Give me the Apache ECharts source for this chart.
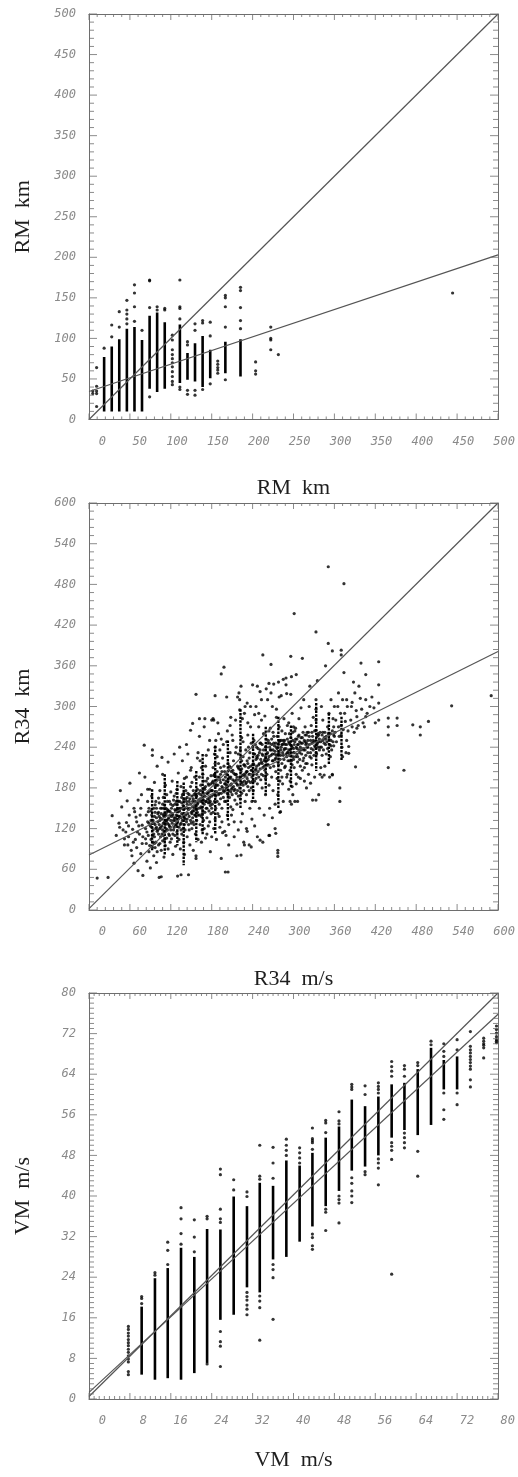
<!DOCTYPE html>
<html><head><meta charset="utf-8">
<script src="https://cdn.jsdelivr.net/npm/echarts/dist/echarts.min.js"></script>
<style>html,body{margin:0;padding:0;background:#fff}#c{width:518px;height:1477px;background:#fff}</style>
</head><body><div id="c"></div>
<script>
// ---------- axis definitions (min, max, major interval, minor splits) ----------
const p1AxisX = [0, 500, 50, 5];
const p1AxisY = [0, 500, 50, 5];
const p2AxisX = [0, 600, 60, 5];
const p2AxisY = [0, 600, 60, 5];
const p3AxisX = [0, 80, 8, 8];
const p3AxisY = [0, 80, 8, 8];
const axisTitles = ['RM  km', 'RM  km', 'R34  m/s', 'R34  km', 'VM  m/s', 'VM  m/s']; // x1,y1,x2,y2,x3,y3

// ---------- panel 1 : RM ----------
const p1Columns = [ // [x, low, high] dense stripes
  [18.5, 10, 77], [27.8, 10, 90], [37.0, 10, 99], [46.3, 10, 112], [55.6, 10, 114],
  [64.8, 10, 98], [74.1, 38, 128], [83.3, 34, 132], [92.6, 38, 120], [111.1, 45, 117],
  [120.4, 49, 82], [129.6, 47, 94], [138.9, 40, 103], [148.2, 51, 86], [166.7, 57, 96],
  [185.2, 53, 99]
];
const p1Points = [ // [x, [y...]]
  [4.6, [32, 35]], [9.3, [64, 41, 35, 32, 16]], [18.5, [88]], [27.8, [116.5, 102]],
  [37.0, [133, 114]], [46.3, [147, 135, 130, 124, 118]], [55.6, [166, 156, 139, 121]],
  [64.8, [110]], [74.1, [172, 171, 138, 28]], [83.3, [139, 135]], [92.6, [137, 135]],
  [101.9, [104, 98, 86, 80, 75, 70, 65, 59, 53, 47, 43]], [111.1, [172, 139, 137, 124, 40, 37]],
  [120.4, [96, 92, 36, 31]], [129.6, [118, 110, 36, 30]], [138.9, [122, 119, 37]],
  [148.2, [120, 103, 44]], [157.4, [72, 68, 64, 61, 57]], [166.7, [153, 150, 139, 114, 49]],
  [185.2, [163, 159, 138, 122, 112]], [203.7, [71, 60, 56]], [222.2, [114, 100, 98, 86]],
  [231.5, [80]], [444.5, [156]]
];
const p1Fit = [[0, 34.5], [500, 203]];
const p1Diag = [[0, 0], [500, 500]];

// ---------- panel 2 : R34 ----------
const p2Columns = [
  [92.6, 88, 178], [111.1, 80, 200], [129.6, 95, 190], [138.9, 66, 188], [157.4, 100, 205],
  [166.7, 110, 230], [185.2, 112, 242], [203.7, 130, 250], [222.2, 150, 296], [240.7, 160, 260],
  [259.3, 170, 270], [277.8, 150, 285], [296.3, 180, 272], [333.3, 205, 305], [351.9, 215, 290],
  [370.4, 220, 285]
];
const p2Points = [
  [12,47],[28,48],[34,139],[40,110],[44,128],[46,176],[48,152],[50,118],[52,96],[55,129],[56,161],[57,96],[58,108],[60,187],[58,124],[52,105],[45,122],[59,140],[54,115],
  [62,88],[64,119],[66,69],[66,150],[68,104],[70,130],[70,92],[72,58],[72,162],[74,202],[74,112],[75,140],[76,83],[78,125],[78,98],[79,51],[77,170],[73,124],[69,137],[65,100],[63,80],[67,145],[71,115],[76,150],[79,108],
  [81,243],[82,196],[83,120],[84,140],[84,98],[85,72],[86,160],[86,130],[87,110],[88,86],[88,150],[89,178],[90,62],[90,124],[91,104],[92,140],[92,168],[93,236],[93,228],[93,92],[94,118],[94,132],[95,150],[95,80],[96,188],[96,108],[97,126],[97,144],[98,100],[98,160],[99,70],[99,136],[100,116],[100,212],[85,115],[87,145],[89,95],[91,132],[95,112],[97,92],[99,150],[83,105],[86,178],[88,128],[92,122],[94,100],[96,138],[98,120],[100,86],
  [101,130],[102,144],[102,96],[103,158],[103,48],[104,120],[104,176],[105,108],[105,135],[106,49],[106,88],[107,150],[107,124],[108,200],[108,102],[109,140],[109,166],[110,115],[110,78],[111,130],[111,155],[112,95],[112,184],[113,140],[113,120],[114,106],[114,170],[115,128],[115,148],[116,90],[116,218],[117,136],[117,112],[118,160],[118,124],[119,100],[119,145],[120,132],[120,174],[101,118],[103,138],[105,122],[107,112],[109,128],[111,104],[113,150],[115,118],[117,126],[119,140],[102,165],[106,142],[110,138],[114,132],[118,110],[104,98],[108,118],[112,126],[116,146],[120,118],[107,225],
  [121,150],[121,105],[122,128],[122,190],[123,140],[123,82],[124,118],[124,162],[125,136],[125,230],[126,110],[126,148],[127,125],[127,94],[128,172],[128,140],[129,155],[129,115],[130,130],[130,50],[131,145],[131,202],[132,122],[132,104],[133,160],[133,138],[134,150],[134,90],[135,128],[135,182],[136,142],[136,112],[137,170],[137,132],[138,120],[138,154],[139,148],[139,100],[140,136],[140,194],[122,142],[124,132],[126,156],[128,126],[130,148],[132,138],[134,126],[136,158],[138,140],[140,126],[123,112],[127,146],[131,134],[135,118],[139,162],[125,168],[129,178],[133,240],[137,220],[140,82],[135,52],
  [141,150],[141,118],[142,164],[142,140],[143,130],[143,244],[144,156],[144,108],[145,172],[145,142],[146,126],[146,52],[147,160],[147,138],[148,150],[148,96],[149,182],[149,132],[150,144],[150,210],[151,168],[151,120],[152,152],[152,136],[153,176],[153,88],[154,146],[154,126],[155,160],[155,196],[156,140],[156,112],[157,152],[157,318],[158,168],[158,132],[159,144],[159,224],[160,158],[160,104],[142,176],[144,134],[146,148],[148,164],[150,128],[152,160],[154,170],[156,154],[158,148],[160,140],[143,196],[147,118],[151,188],[155,140],[159,178],[145,230],[149,206],[153,130],[157,80],[160,232],[152,275],[149,265],[157,76],
  [161,150],[161,172],[162,140],[162,256],[163,164],[163,126],[164,184],[164,152],[165,138],[165,210],[166,160],[166,118],[167,176],[167,146],[168,190],[168,132],[169,156],[169,270],[170,168],[170,144],[171,182],[171,106],[172,160],[172,228],[173,150],[173,136],[174,172],[174,194],[175,158],[175,124],[176,184],[176,146],[177,166],[177,250],[178,154],[178,86],[179,176],[179,142],[180,168],[180,280],[162,196],[164,170],[166,142],[168,162],[170,178],[172,150],[174,164],[176,174],[178,160],[180,150],[163,220],[167,200],[171,212],[175,236],[179,198],[165,100],[169,120],[173,112],[177,130],[180,108],[162,282],[170,282],
  [181,176],[181,156],[182,190],[182,144],[183,170],[183,280],[184,160],[184,200],[185,182],[185,134],[185,240],[185,216],[186,168],[186,150],[187,192],[187,174],[188,160],[188,226],[189,184],[189,142],[190,170],[190,260],[191,196],[191,156],[192,178],[192,122],[193,188],[193,164],[194,172],[194,348],[195,204],[195,150],[196,180],[196,114],[197,192],[197,166],[198,174],[198,358],[199,186],[199,160],[200,196],[200,56],[182,210],[184,230],[186,250],[188,204],[190,216],[192,236],[194,252],[196,224],[198,212],[200,176],[183,120],[187,104],[191,138],[195,130],[199,116],[185,316],[189,276],[197,244],[193,210],[185,198],[182,282],[194,76],
  [201,180],[201,160],[202,200],[202,248],[203,172],[203,140],[204,190],[204,216],[205,176],[205,126],[206,196],[206,166],[207,184],[207,232],[208,174],[208,152],[209,204],[209,186],[210,170],[210,258],[211,192],[211,148],[212,182],[212,220],[213,176],[213,130],[214,200],[214,162],[215,188],[215,280],[216,172],[216,240],[217,196],[217,156],[218,184],[218,212],[219,168],[219,118],[220,192],[220,320],[202,184],[204,170],[206,212],[208,196],[210,180],[212,202],[214,178],[216,200],[218,176],[220,208],[201,110],[205,96],[209,140],[213,108],[217,80],[219,230],[203,264],[207,272],[211,250],[215,232],[202,314],[218,314],[208,284],[204,56],
  [221,180],[221,310],[222,196],[222,164],[223,188],[223,226],[224,172],[224,208],[225,198],[225,142],[226,184],[226,248],[227,200],[227,176],[228,190],[228,290],[229,212],[229,160],[230,186],[230,236],[231,204],[231,170],[232,194],[232,116],[233,182],[233,258],[234,210],[234,190],[235,176],[235,224],[236,200],[236,150],[237,188],[237,270],[238,206],[238,180],[239,196],[239,134],[240,214],[240,240],[222,236],[224,254],[226,226],[228,214],[230,202],[232,220],[234,240],[236,232],[238,246],[240,190],[223,130],[227,100],[231,120],[235,96],[239,160],[225,282],[229,300],[233,276],[237,300],[240,332],[223,330],[221,295],[232,305],[223,81],[228,96],
  [241,200],[241,176],[242,214],[242,250],[243,190],[243,288],[244,206],[244,160],[245,222],[245,194],[246,212],[246,240],[247,186],[247,330],[248,204],[248,228],[249,196],[249,270],[250,216],[250,150],[251,208],[251,246],[252,192],[252,222],[253,200],[253,310],[254,230],[254,180],[255,210],[255,376],[256,198],[256,260],[257,220],[257,140],[258,206],[258,286],[259,226],[259,194],[260,214],[260,252],[242,230],[244,244],[246,226],[248,238],[250,232],[252,246],[254,216],[256,236],[258,222],[260,240],[243,124],[247,108],[251,103],[255,100],[259,170],[245,300],[249,290],[253,280],[251,322],[260,326],[238,93],
  [261,220],[261,200],[262,232],[262,310],[263,214],[263,250],[264,226],[264,184],[265,240],[265,110],[266,210],[266,268],[267,228],[267,362],[268,244],[268,196],[269,220],[269,300],[270,236],[270,176],[271,212],[271,256],[272,230],[271,333],[273,222],[273,156],[274,246],[274,204],[275,228],[275,284],[276,238],[276,194],[277,218],[277,88],[278,244],[277,79],[279,232],[279,270],[280,222],[280,144],[262,246],[264,264],[266,236],[268,252],[270,262],[272,242],[274,224],[276,256],[278,214],[280,250],[264,334],[267,320],[278,336],[275,296],[279,314],[265,150],[269,136],[273,120],[277,170],[280,190],[277,84],[274,113],[264,110],
  [281,228],[281,206],[282,240],[282,316],[283,216],[283,264],[284,232],[284,186],[285,250],[285,160],[286,222],[286,282],[287,238],[290,319],[288,212],[288,244],[289,230],[289,342],[290,226],[290,196],[291,252],[291,272],[292,220],[296,374],[293,236],[293,178],[294,228],[294,260],[295,244],[295,206],[296,232],[296,318],[297,220],[297,156],[298,240],[298,290],[299,226],[299,262],[300,238],[301,437],[282,250],[284,244],[286,236],[288,260],[290,244],[292,232],[294,246],[296,254],[298,214],[300,222],[283,196],[287,210],[291,200],[295,190],[299,170],[285,340],[289,332],[293,276],[297,344],[300,270],[295,160],[306,160],[298,182],[281,145],
  [301,232],[301,210],[302,248],[302,160],[303,226],[303,268],[304,240],[304,200],[305,230],[304,347],[306,244],[306,218],[307,256],[307,196],[308,236],[308,282],[309,248],[309,222],[310,240],[310,212],[311,254],[311,298],[312,230],[313,371],[313,246],[313,206],[314,238],[314,262],[315,224],[315,310],[316,250],[316,190],[317,236],[317,270],[318,244],[318,228],[319,258],[319,180],[320,240],[320,216],[302,264],[305,252],[308,258],[311,236],[314,220],[317,248],[320,262],[304,186],[310,194],[316,210],
  [321,232],[321,250],[322,262],[322,200],[323,244],[323,300],[324,226],[324,330],[325,250],[325,187],[326,238],[326,272],[327,246],[327,214],[328,256],[328,162],[329,236],[329,284],[330,248],[330,228],[331,264],[331,196],[332,240],[333,410],[333,250],[333,296],[333,310],[333,280],[333,265],[333,232],[334,244],[333,162],[335,256],[335,338],[336,240],[336,260],[337,248],[337,170],[338,236],[338,252],[339,262],[339,200],[340,248],[340,210],
  [341,240],[341,300],[342,258],[342,196],[343,250],[343,280],[344,236],[345,199],[345,246],[345,254],[346,262],[346,212],[347,244],[347,360],[348,256],[348,230],[349,248],[351,126],[350,270],[351,393],[351,506],[357,382],[352,252],[352,290],[353,244],[353,196],[354,260],[354,226],[355,250],[355,310],[356,236],[357,199],[357,264],[357,200],[358,248],[358,282],[359,242],[359,270],[360,256],[360,300],
  [361,262],[362,280],[363,248],[365,300],[366,320],[367,256],[368,180],[368,160],[369,290],[370,383],[370,376],[370,258],[370,272],[371,240],[372,310],[372,226],[373,266],[374,481],[374,350],[375,290],[376,278],[377,232],[378,310],[378,250],[379,300],[380,264],[381,241],[381,231],[384,280],[385,300],[386,270],[386,306],[388,336],[389,262],[390,320],[391,211],[392,294],[393,285],[393,268],[395,272],[396,330],[398,312],[399,364],[400,296],[402,276],[404,270],[406,347],[406,310],[406,285],[408,290],[412,300],[415,314],[418,298],[420,276],[425,366],[425,332],[425,305],[425,280],[366,270],
  [439,283],[439,270],[439,258],[439,210],[452,283],[452,272],[462,206],[475,273],[486,270],[486,258],[498,278],[532,301],[590,316],
  [91,146],[93,110],[95,128],[97,155],[99,122],[101,142],[103,126],[105,150],[107,134],[109,110],[111,142],[113,132],[115,160],[117,146],[119,122],[121,138],[123,154],[125,122],[127,136],[129,148],[96,98],[102,112],[108,156],[114,144],[120,156],[126,132],[128,160],[104,132],[110,150],[116,134],
  [131,160],[133,146],[135,136],[137,150],[139,172],[141,134],[143,160],[145,150],[147,170],[149,156],[151,142],[153,164],[155,150],[157,168],[159,156],[161,162],[163,176],[165,150],[167,166],[169,180],[171,160],[173,172],[175,186],[177,158],[179,186],[132,150],[136,166],[144,166],[152,146],[156,172],[164,160],[168,172],[172,190],[176,162],[180,176],
  [181,188],[183,198],[185,170],[187,184],[189,196],[191,172],[193,200],[195,182],[197,176],[199,204],[201,190],[203,182],[205,206],[207,194],[209,178],[211,206],[213,190],[215,200],[217,186],[219,210],[221,196],[223,204],[225,188],[227,214],[229,198],[231,188],[233,216],[235,200],[237,212],[239,206],[184,186],[192,192],[200,186],[208,210],[216,192],[224,220],[232,204],[240,200],
  [241,216],[243,230],[245,208],[247,224],[249,214],[251,236],[253,218],[255,228],[257,212],[259,240],[261,230],[263,222],[265,246],[267,236],[269,230],[271,246],[273,234],[275,240],[277,230],[279,248],[281,236],[283,244],[285,228],[287,250],[289,238],[291,232],[293,248],[295,236],[297,242],[299,250],[246,200],[254,244],[262,214],[270,220],[278,228],[286,246],[294,220],[300,232],
  [301,244],[303,252],[305,238],[307,244],[309,232],[311,246],[313,254],[315,236],[317,258],[319,246],[321,240],[323,256],[325,232],[327,262],[329,250],[331,242],[335,246],[337,258],[339,240],[343,262],[347,252],[351,260],[355,242],[359,258],[306,226],[318,216],[326,224],[334,230],[342,228],[350,238]
];
const p2Fit = [[0, 81], [600, 381]];
const p2Diag = [[0, 2], [600, 600]];

// ---------- panel 3 : VM ----------
const p3Columns = [
  [10.3, 4.8, 18.2], [12.9, 3.8, 23.8], [15.4, 4.1, 25.8], [18.0, 3.8, 29.8], [20.6, 5.1, 28.0],
  [23.1, 7.1, 33.5], [25.7, 15.6, 33.4], [28.3, 16.6, 39.9], [30.9, 22.0, 38.0], [33.4, 21.0, 42.6],
  [36.0, 27.5, 42.0], [38.6, 28.0, 47.0], [41.2, 31.0, 46.0], [43.7, 34.0, 48.5], [46.3, 38.0, 51.5],
  [48.9, 41.0, 53.7], [51.4, 45.0, 59.0], [54.0, 45.8, 57.7], [56.6, 48.0, 59.6], [59.2, 51.5, 62.0],
  [61.7, 53.0, 62.3], [64.3, 52.0, 65.0], [66.9, 54.0, 69.2], [69.4, 61.0, 66.8], [72.0, 61.0, 67.5]
];
const p3Points = [
  [7.7, [14.3, 13.7, 13.0, 12.4, 11.7, 11.1, 10.5, 9.8, 9.2, 8.5, 7.9, 7.3, 5.4, 4.8]],
  [10.3, [20.2, 19.8, 18.8]], [12.9, [24.9, 24.4]], [15.4, [30.9, 29.3, 26.5]],
  [18.0, [37.7, 35.5, 32.6, 30.5]], [20.6, [35.3, 31.9, 29.0]], [23.1, [36.0, 35.5, 6.9]],
  [25.7, [45.3, 44.2, 37.4, 35.5, 34.8, 13.3, 11.3, 10.4, 6.4]], [28.3, [43.2, 41.2]],
  [30.9, [40.8, 39.9, 21.0, 20.2, 19.5, 18.5, 17.7, 16.6]], [33.4, [50.0, 43.9, 43.3, 20.3, 19.3, 18.0, 11.6]],
  [36.0, [49.6, 46.5, 43.5, 26.5, 25.5, 23.9, 15.7]], [38.6, [51.2, 50.0, 49.0, 48.0]],
  [41.2, [49.5, 48.5, 47.5, 46.5]], [43.7, [53.4, 51.3, 50.9, 50.5, 49.2, 32.5, 31.8, 30.2, 29.5]],
  [46.3, [54.9, 54.4, 52.5, 37.4, 36.8, 33.2]], [48.9, [56.6, 54.8, 54.2, 40.0, 39.3, 38.6, 34.7]],
  [51.4, [62.0, 61.5, 61.0, 43.6, 42.5, 41.0, 40.0, 38.7]], [54.0, [61.7, 60.0, 44.8, 44.2]],
  [56.6, [62.3, 61.6, 61.0, 60.3, 47.3, 46.5, 45.5, 42.2]], [59.2, [66.5, 65.5, 64.6, 63.6, 50.5, 49.8, 49.0, 47.2, 24.6]],
  [61.7, [65.7, 65.0, 63.6, 52.4, 51.5, 50.5, 49.5]], [64.3, [66.3, 65.7, 48.8, 43.9]],
  [66.9, [70.5, 69.8]], [69.4, [70.0, 68.5, 67.5, 60.3, 57.0, 55.1]], [72.0, [70.8, 68.8, 60.3, 58.0]],
  [74.6, [72.4, 69.5, 68.8, 68.2, 67.5, 66.9, 66.3, 65.6, 65.0, 62.9, 61.5]],
  [77.2, [71.1, 70.5, 70.0, 69.7, 69.2, 67.2]], [79.7, [73.5, 72.8, 72.1, 71.4, 70.8, 70.5, 70.2]]
];
const p3Fit = [[0, 1.3], [80, 75.8]];
const p3Diag = [[0, 0.5], [80, 80]];

// ---------- build ----------
function expand(groups) {
  const out = [];
  groups.forEach(g => g[1].forEach(y => out.push([g[0], y])));
  return out;
}
// tick positions (with major flag) derived from an axis definition
function tickList(def) {
  const step = def[2] / def[3], out = [];
  const n = Math.round((def[1] - def[0]) / step);
  for (let i = 0; i <= n; i++) out.push([def[0] + i * step, i % def[3] === 0 ? 1 : 0]);
  return out;
}
const AX = '#6e6e6e', LAB = '#8a8a8a', TXT = '#1e1e1e';
const labelFont = {color: LAB, fontFamily: 'DejaVu Sans Mono', fontSize: 12, fontStyle: 'italic'};
const nameFont = {color: TXT, fontFamily: 'Liberation Serif', fontSize: 22};

function xAx(grid, def, pos, name, gap) {
  const main = pos === 'bottom';
  return {
    type: 'value', gridIndex: grid, position: pos, min: def[0], max: def[1], interval: def[2],
    axisLine: {show: true, onZero: false, lineStyle: {color: AX, width: 1}},
    axisTick: {show: false}, minorTick: {show: false},
    splitLine: {show: false},
    axisLabel: main ? Object.assign({show: true, margin: 16, align: 'right', padding: [0, -17, 0, 0]}, labelFont) : {show: false},
    name: main ? name : '', nameLocation: 'middle', nameGap: gap, nameTextStyle: nameFont, nameMoveOverlap: false
  };
}
function yAx(grid, def, pos, name) {
  const main = pos === 'left';
  return {
    type: 'value', gridIndex: grid, position: pos, min: def[0], max: def[1], interval: def[2],
    axisLine: {show: true, onZero: false, lineStyle: {color: AX, width: 1}},
    axisTick: {show: false}, minorTick: {show: false},
    splitLine: {show: false},
    axisLabel: main ? Object.assign({show: true, margin: 13}, labelFont) : {show: false},
    name: main ? name : '', nameLocation: 'middle', nameGap: 55, nameTextStyle: nameFont, nameMoveOverlap: false
  };
}
// inward ticks on one side of a panel: thin rect symbols sitting on the frame, placed by the axes' scales
function tickMarks(ax, defX, defY, side) {
  const horiz = side === 'b' || side === 't';
  const data = tickList(horiz ? defX : defY).map(t => {
    const v = t[0], major = t[1] === 1;
    const len = horiz ? (major ? 6 : 3) : (major ? 8 : 5);
    if (side === 'b') return {value: [v, defY[0]], symbolSize: [1, len], symbolOffset: [0, -len / 2]};
    if (side === 't') return {value: [v, defY[1]], symbolSize: [1, len], symbolOffset: [0, len / 2]};
    if (side === 'l') return {value: [defX[0], v], symbolSize: [len, 1], symbolOffset: [len / 2, 0]};
    return {value: [defX[1], v], symbolSize: [len, 1], symbolOffset: [-len / 2, 0]};
  });
  return {type: 'scatter', xAxisIndex: ax, yAxisIndex: ax, data: data, symbol: 'rect',
    itemStyle: {color: AX}, silent: true, clip: false, z: 6};
}
function ticks(ax, defX, defY) {
  return ['b', 't', 'l', 'r'].map(s => tickMarks(ax, defX, defY, s));
}
function stripeSeries(ax, data, dotted) {
  return {
    type: 'custom', xAxisIndex: ax, yAxisIndex: ax, data: data, silent: true, clip: true,
    renderItem(params, api) {
      const a = api.coord([api.value(0), api.value(2)]);
      const b = api.coord([api.value(0), api.value(1)]);
      if (dotted) {
        return {type: 'line', shape: {x1: a[0], y1: a[1], x2: b[0], y2: b[1]},
          style: {stroke: '#000', lineWidth: 2.4, lineDash: [2.5, 1.2]}};
      }
      return {type: 'rect', shape: {x: a[0] - 1.3, y: a[1], width: 2.6, height: b[1] - a[1]}, style: {fill: '#000'}};
    }
  };
}
function dots(ax, data, size) {
  return {type: 'scatter', xAxisIndex: ax, yAxisIndex: ax, data: data, symbol: 'circle',
    symbolSize: size, itemStyle: {color: '#000'}, silent: true};
}
function seg(ax, data) {
  return {type: 'line', xAxisIndex: ax, yAxisIndex: ax, data: data, symbol: 'none', silent: true,
    lineStyle: {color: '#555', width: 1.2}, z: 5};
}

const option = {
  animation: false,
  grid: [
    {left: 89, top: 14, width: 410, height: 405.5},
    {left: 89, top: 503, width: 410, height: 407},
    {left: 89, top: 993, width: 410, height: 406}
  ],
  xAxis: [
    xAx(0, p1AxisX, 'bottom', axisTitles[0], 58), xAx(0, p1AxisX, 'top', '', 0),
    xAx(1, p2AxisX, 'bottom', axisTitles[2], 58), xAx(1, p2AxisX, 'top', '', 0),
    xAx(2, p3AxisX, 'bottom', axisTitles[4], 50), xAx(2, p3AxisX, 'top', '', 0)
  ],
  yAxis: [
    yAx(0, p1AxisY, 'left', axisTitles[1]), yAx(0, p1AxisY, 'right', ''),
    yAx(1, p2AxisY, 'left', axisTitles[3]), yAx(1, p2AxisY, 'right', ''),
    yAx(2, p3AxisY, 'left', axisTitles[5]), yAx(2, p3AxisY, 'right', '')
  ],
  series: [].concat(
    ticks(0, p1AxisX, p1AxisY), ticks(2, p2AxisX, p2AxisY), ticks(4, p3AxisX, p3AxisY),
    [
      stripeSeries(0, p1Columns, false), dots(0, expand(p1Points), 3.2),
      seg(0, p1Fit), seg(0, p1Diag),
      stripeSeries(2, p2Columns, true), dots(2, p2Points, 3.2),
      seg(2, p2Fit), seg(2, p2Diag),
      stripeSeries(4, p3Columns, false), dots(4, expand(p3Points), 3.2),
      seg(4, p3Fit), seg(4, p3Diag)
    ]
  )
};
const chart = echarts.init(document.getElementById('c'), null, {renderer: 'canvas'});
chart.setOption(option);
</script></body></html>
